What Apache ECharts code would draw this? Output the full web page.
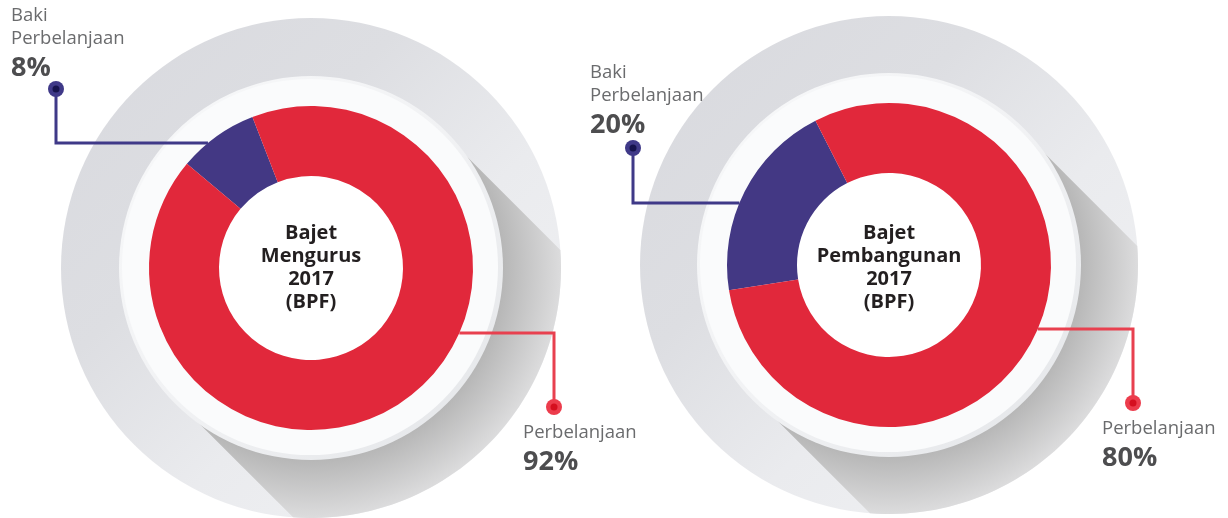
<!DOCTYPE html>
<html>
<head>
<meta charset="utf-8">
<script src="https://cdn.jsdelivr.net/npm/echarts@6/dist/echarts.min.js"></script>
<style>
  html, body { margin: 0; padding: 0; background: #fff; }
  #chart { width: 1228px; height: 518px; }
</style>
</head>
<body>
<div id="chart"></div>
<script>
// 数据
const categories = ['Baki Perbelanjaan', 'Perbelanjaan'];
const mengurusValues = [8, 92];
const pembangunanValues = [20, 80];
const centerTitles = ['Bajet\nMengurus\n2017\n(BPF)', 'Bajet\nPembangunan\n2017\n(BPF)'];

const RED = '#e1283b';
const BLUE = '#433884';
const FONT = '"Open Sans", "Noto Sans", sans-serif';
const INNER_R = 92;
const OUTER_R = 162;
const RING_R = 192;

// 每个环形图的布局
const layouts = [
  {
    cx: 311, cy: 268, bigR: 250, startAngle: 140, values: mengurusValues, title: centerTitles[0],
    baki: { dot: [56, 89], lineY: 143, text: [11, 4.5] },
    belanja: { dot: [554, 407], lineY: 333, text: [523, 421.5] }
  },
  {
    cx: 889, cy: 265, bigR: 249, startAngle: 189, values: pembangunanValues, title: centerTitles[1],
    baki: { dot: [633, 148], lineY: 203, text: [590, 61] },
    belanja: { dot: [1133, 403], lineY: 329, text: [1102, 417.5] }
  }
];

// 长阴影：圆盘沿45°方向投影，裁剪到大灰圆内
function shadowPoints(cx, cy, r, bigR) {
  const s = Math.SQRT1_2;
  const pts = [[cx + r * s, cy - r * s]];
  const t = Math.sqrt(bigR * bigR - r * r);
  const a0 = Math.PI / 4 - Math.atan2(r, t);
  const a1 = Math.PI / 4 + Math.atan2(r, t);
  for (let i = 0; i <= 60; i++) {
    const a = a0 + (a1 - a0) * i / 60;
    pts.push([cx + bigR * Math.cos(a), cy + bigR * Math.sin(a)]);
  }
  pts.push([cx - r * s, cy + r * s]);
  return pts;
}

function edgeX(l, y, side) {
  const dy = y - l.cy;
  return l.cx + side * Math.sqrt(OUTER_R * OUTER_R - dy * dy);
}

function labelText(name, value) {
  const lines = name.split(' ').map(w => '{n|' + w + '}').join('\n');
  return lines + '\n{p|' + value + '%}';
}

const labelRich = {
  n: { fontSize: 18.5, lineHeight: 23, fontFamily: FONT, fill: '#6a6b6d' },
  p: { fontSize: 27, lineHeight: 36, fontFamily: FONT, fontWeight: 'bold', fill: '#4d4d4f' }
};

function dot(x, y, outer, inner) {
  return [
    { type: 'circle', z: 6, silent: true, shape: { cx: x, cy: y, r: 8 }, style: { fill: outer } },
    { type: 'circle', z: 7, silent: true, shape: { cx: x, cy: y, r: 3.5 }, style: { fill: inner } }
  ];
}

const graphics = [];
layouts.forEach(l => {
  // 大灰圆
  graphics.push({
    type: 'circle', z: 0, silent: true,
    shape: { cx: l.cx, cy: l.cy, r: l.bigR },
    style: {
      fill: new echarts.graphic.LinearGradient(0, 0, 1, 1, [
        { offset: 0, color: '#d8d9de' },
        { offset: 0.35, color: '#dddee2' },
        { offset: 0.6, color: '#eaebee' },
        { offset: 1, color: '#f2f3f5' }
      ])
    }
  });
  // 阴影
  graphics.push({
    type: 'polygon', z: 1, silent: true,
    shape: { points: shadowPoints(l.cx, l.cy, RING_R - 3, l.bigR) },
    style: {
      fill: {
        type: 'radial', x: l.cx, y: l.cy, r: l.bigR, global: true,
        colorStops: [
          { offset: 0, color: '#b4b4b4' },
          { offset: 0.77, color: '#b7b7b7' },
          { offset: 1, color: '#dcdcdd' }
        ]
      }
    }
  });
  // 白色圆盘
  graphics.push({
    type: 'circle', z: 2, silent: true, shape: { cx: l.cx, cy: l.cy, r: RING_R },
    style: {
      fill: new echarts.graphic.LinearGradient(0, 0, 1, 1, [
        { offset: 0, color: '#f8f9fa' },
        { offset: 0.5, color: '#f1f2f4' },
        { offset: 1, color: '#e3e5e8' }
      ])
    }
  });
  graphics.push({ type: 'circle', z: 2, silent: true, shape: { cx: l.cx - 1, cy: l.cy - 1, r: RING_R - 4 }, style: { fill: '#fafbfc' } });
  graphics.push({ type: 'circle', z: 2, silent: true, shape: { cx: l.cx, cy: l.cy, r: INNER_R }, style: { fill: '#ffffff' } });

  // 中心文字
  graphics.push({
    type: 'text', z: 6, silent: true, x: l.cx, y: 268,
    style: {
      text: l.title, fill: '#231f20', fontFamily: FONT, fontWeight: 'bold', fontSize: 20,
      lineHeight: 23, align: 'center', verticalAlign: 'middle'
    }
  });

  // 引导线 - Baki
  const b = l.baki;
  graphics.push({
    type: 'polyline', z: 5, silent: true,
    shape: { points: [b.dot, [b.dot[0], b.lineY], [edgeX(l, b.lineY, -1), b.lineY]] },
    style: { stroke: '#3f3988', lineWidth: 3, fill: null }
  });
  graphics.push(...dot(b.dot[0], b.dot[1], '#3f3988', '#16134d'));
  graphics.push({
    type: 'text', z: 6, silent: true, x: b.text[0], y: b.text[1],
    style: { text: labelText(categories[0], l.values[0]), rich: labelRich, align: 'left', verticalAlign: 'top' }
  });

  // 引导线 - Perbelanjaan
  const p = l.belanja;
  graphics.push({
    type: 'polyline', z: 5, silent: true,
    shape: { points: [[edgeX(l, p.lineY, 1), p.lineY], [p.dot[0], p.lineY], p.dot] },
    style: { stroke: '#e8404f', lineWidth: 3, fill: null }
  });
  graphics.push(...dot(p.dot[0], p.dot[1], '#ec3c4c', '#d50f1f'));
  graphics.push({
    type: 'text', z: 6, silent: true, x: p.text[0], y: p.text[1],
    style: { text: labelText(categories[1], l.values[1]), rich: labelRich, align: 'left', verticalAlign: 'top' }
  });
});

const chart = echarts.init(document.getElementById('chart'));
chart.setOption({
  animation: false,
  backgroundColor: '#ffffff',
  graphic: { elements: graphics },
  series: layouts.map(l => ({
    type: 'pie',
    z: 3,
    center: [l.cx, l.cy],
    radius: [INNER_R, OUTER_R],
    startAngle: l.startAngle,
    clockwise: true,
    silent: true,
    label: { show: false },
    labelLine: { show: false },
    emphasis: { disabled: true },
    itemStyle: { borderWidth: 0 },
    data: categories.map((c, i) => ({
      name: c,
      value: l.values[i],
      itemStyle: { color: i === 0 ? BLUE : RED }
    }))
  }))
});
</script>
</body>
</html>
